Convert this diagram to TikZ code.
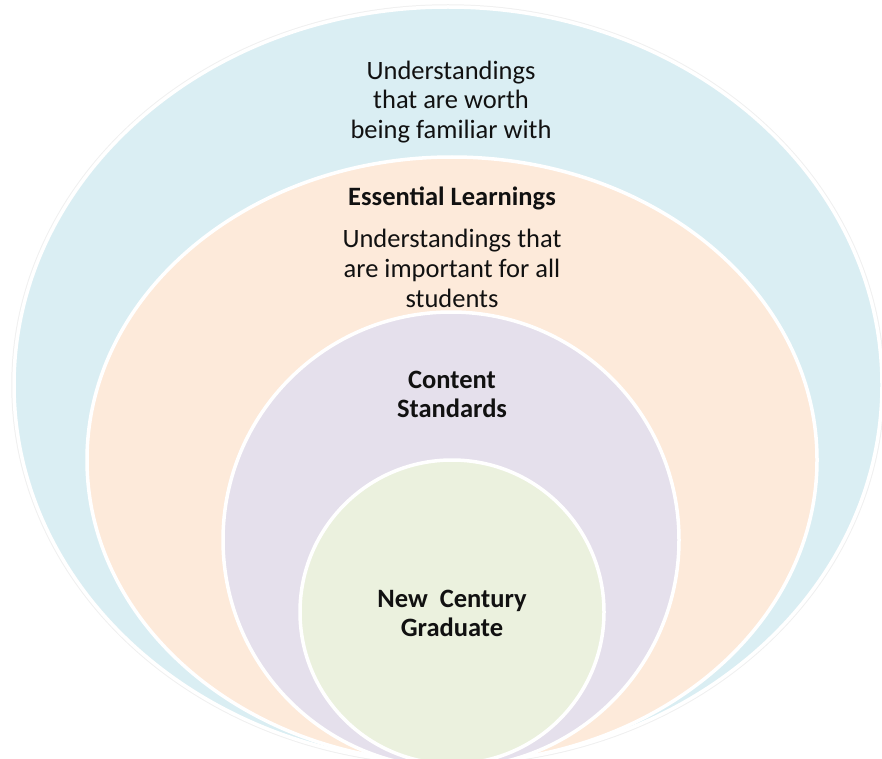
\documentclass[tikz,border=0pt]{standalone}
\usepackage{fontspec}
\setmainfont{Carlito}
\definecolor{blueF}{HTML}{DAEEF3}
\definecolor{orangeF}{HTML}{FDEADA}
\definecolor{purpleF}{HTML}{E5E0EC}
\definecolor{greenF}{HTML}{EBF1DE}
\definecolor{txt}{HTML}{111111}
\begin{document}
\begin{tikzpicture}[x=1pt,y=-1pt,
  ring/.style={draw=white, line width=3.5pt},
  lbl/.style={font=\fontsize{26.5}{29.5}\selectfont, align=center, text=txt, inner sep=0pt},
  ttl/.style={font=\fontsize{26.5}{29}\selectfont\bfseries, align=center, text=txt, inner sep=0pt}]
\useasboundingbox (0,0) rectangle (882,759);
\begin{scope}
\clip (0,0) rectangle (882,759);
\draw[black!6, line width=1.5pt] (448,385) ellipse [x radius=436, y radius=380];
\draw[ring, fill=blueF] (448,385) ellipse [x radius=434, y radius=378];
\draw[ring, fill=orangeF] (452,460) ellipse [x radius=365, y radius=303];
\draw[ring, fill=purpleF] (451,540) circle [radius=228];
\draw[ring, fill=greenF] (452,612) circle [radius=152];
\end{scope}
\node[lbl] (worth) at (451,102) {Understandings\\that are worth\\being familiar with};
\node[ttl, anchor=base] (essential) at (452,205) {Essential Learnings};
\node[lbl, font=\fontsize{26.5}{30}\selectfont] (important) at (452,268) {Understandings that\\are important for all\\students};
\node[ttl] (content) at (452,394) {Content\\Standards};
\node[ttl] (graduate) at (452,613) {New\ \ Century\\Graduate};
\end{tikzpicture}
\end{document}
